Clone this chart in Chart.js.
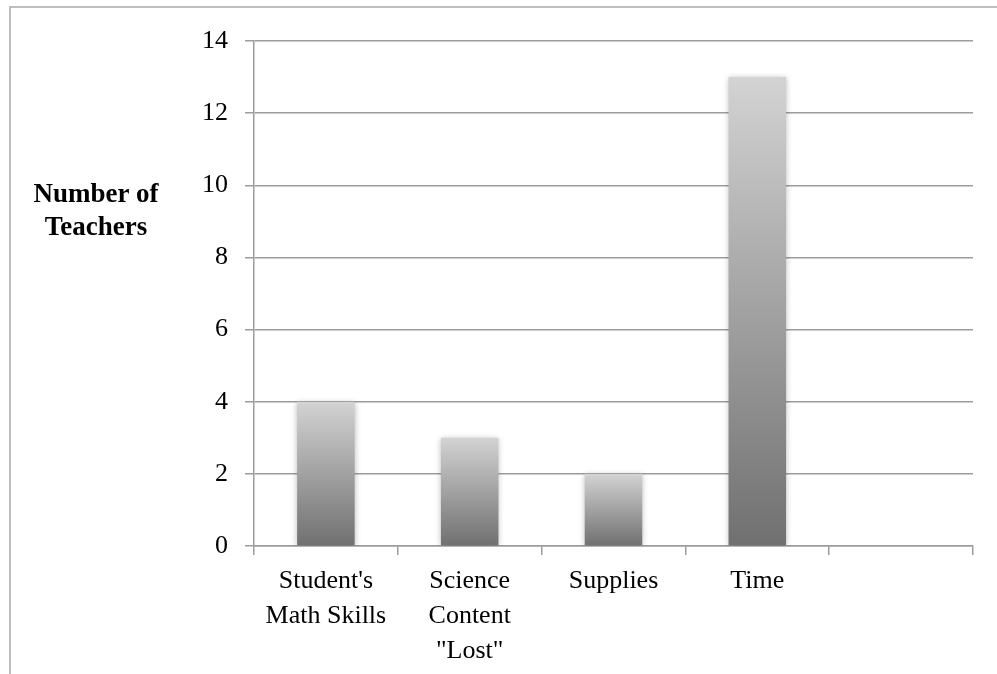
<!DOCTYPE html>
<html>
<head>
<meta charset="utf-8">
<script src="https://cdn.jsdelivr.net/npm/chart.js@4/dist/chart.umd.min.js"></script>
<style>
html,body{margin:0;padding:0;background:#fff;}
#wrap{position:relative;width:997px;height:674px;}
</style>
</head>
<body>
<div id="wrap"><canvas id="c" width="997" height="674"></canvas></div>
<script>
const categories = [["Student's", "Math Skills"], ["Science", "Content", "\"Lost\""], "Supplies", "Time", ""];
const teacherCounts = [4, 3, 2, 13, null];
const yTitleLines = ["Number of", "Teachers"];
const yMin = 0, yMax = 14, yStep = 2;

const FONT = "'Liberation Serif', 'Times New Roman', serif";
const GRID = '#9c9c9c';

const framePlugin = {
  id: 'frame',
  beforeDraw(chart) {
    const ctx = chart.ctx;
    ctx.save();
    ctx.fillStyle = '#fff';
    ctx.fillRect(0, 0, chart.width, chart.height);
    ctx.strokeStyle = '#a8a8a8';
    ctx.lineWidth = 1.5;
    ctx.strokeRect(10, 7, chart.width + 20, chart.height + 20);
    ctx.restore();
  },
  afterDraw(chart) {
    const ctx = chart.ctx;
    ctx.save();
    ctx.fillStyle = '#000';
    ctx.font = "bold 27px " + FONT;
    ctx.textAlign = 'center';
    ctx.textBaseline = 'middle';
    yTitleLines.forEach((t, i) => ctx.fillText(t, 96, 195 + i * 33));
    ctx.restore();
  }
};

const shadowPlugin = {
  id: 'barShadow',
  beforeDatasetsDraw(chart) {
    const ctx = chart.ctx;
    ctx.save();
    ctx.shadowColor = 'rgba(0,0,0,0.28)';
    ctx.shadowBlur = 6;
    ctx.shadowOffsetX = 0;
    ctx.shadowOffsetY = 1;
  },
  afterDatasetsDraw(chart) {
    chart.ctx.restore();
  }
};

function barGradient(context) {
  const chart = context.chart;
  const { ctx, chartArea, scales } = chart;
  if (!chartArea) return '#999';
  const v = context.raw;
  if (v == null) return '#999';
  const top = scales.y.getPixelForValue(v);
  const bottom = scales.y.getPixelForValue(0);
  const g = ctx.createLinearGradient(0, top, 0, bottom);
  g.addColorStop(0, '#d3d3d3');
  g.addColorStop(1, '#707070');
  return g;
}

new Chart(document.getElementById('c'), {
  type: 'bar',
  data: {
    labels: categories,
    datasets: [{
      data: teacherCounts,
      backgroundColor: barGradient,
      borderWidth: 0,
      barPercentage: 0.4,
      categoryPercentage: 1.0
    }]
  },
  options: {
    responsive: false,
    animation: false,
    devicePixelRatio: 1,
    layout: { padding: { left: 0, top: 41, right: 24, bottom: 0 } },
    plugins: { legend: { display: false }, tooltip: { enabled: false } },
    scales: {
      x: {
        afterFit(s) { s.height = 128; },
        grid: { drawOnChartArea: false, drawTicks: true, tickLength: 9, color: GRID, lineWidth: 1.5, offset: true },
        border: { display: true, color: GRID, width: 1.5 },
        ticks: {
          color: '#000',
          font: { family: FONT, size: 26, lineHeight: 1.36 },
          padding: 8,
          autoSkip: false,
          maxRotation: 0
        }
      },
      y: {
        min: yMin, max: yMax,
        afterFit(s) { s.width = 254; },
        grid: { color: GRID, lineWidth: 1.5, tickLength: 9, drawTicks: true },
        border: { display: true, color: GRID, width: 1.5 },
        ticks: {
          stepSize: yStep,
          color: '#000',
          font: { family: FONT, size: 26 },
          padding: 17
        }
      }
    }
  },
  plugins: [framePlugin, shadowPlugin]
});
</script>
</body>
</html>
